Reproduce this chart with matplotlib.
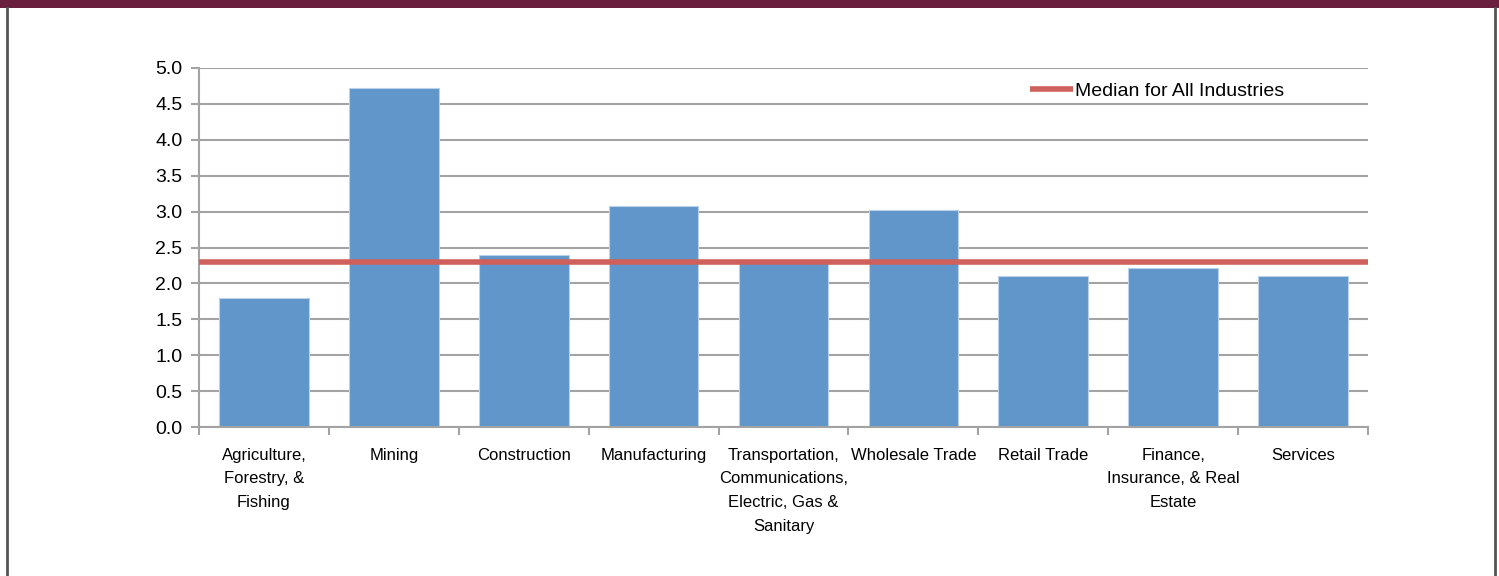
import numpy as np
import matplotlib
matplotlib.use("Agg")
import matplotlib.pyplot as plt
from matplotlib.lines import Line2D
from matplotlib.patches import Rectangle

# Data
industries = ["Agriculture,\nForestry, &\nFishing", "Mining", "Construction",
              "Manufacturing", "Transportation,\nCommunications,\nElectric, Gas &\nSanitary",
              "Wholesale Trade", "Retail Trade", "Finance,\nInsurance, & Real\nEstate",
              "Services"]
ratios = [1.80, 4.72, 2.39, 3.08, 2.33, 3.02, 2.10, 2.21, 2.11]
median_all = 2.30
y_ticks = np.arange(0, 5.01, 0.5)

plt.rcParams['font.family'] = ['Liberation Sans', 'DejaVu Sans']

fig = plt.figure(figsize=(14.99, 5.76), dpi=100)

# slide-style frame: maroon band on top, grey border sides
fig.patches.append(Rectangle((0, 1 - 8 / 576), 1, 8 / 576, transform=fig.transFigure,
                             facecolor="#6B1F3E", edgecolor="none"))
fig.lines.append(Line2D([7 / 1499, 7 / 1499], [0, 1 - 8 / 576], transform=fig.transFigure,
                        color="#555555", lw=2))
fig.lines.append(Line2D([1495 / 1499, 1495 / 1499], [0, 1 - 8 / 576], transform=fig.transFigure,
                        color="#555555", lw=2))

ax = fig.add_axes([199 / 1499, 1 - 427 / 576, (1368 - 199) / 1499, (427 - 68) / 576])

x = np.arange(len(industries))
ax.bar(x, ratios, width=0.69, color="#6096C9", edgecolor="#B9D1EA", linewidth=0.8, zorder=2)

# median line across all categories
ax.plot([-0.5, len(industries) - 0.5], [median_all, median_all], color="#CF605B",
        lw=4, solid_capstyle="butt", zorder=3, label="Median for All Industries")

ax.set_xlim(-0.5, len(industries) - 0.5)
ax.set_ylim(0, 5)
ax.set_yticks(y_ticks)
ax.set_yticklabels(["%.1f" % v for v in y_ticks], fontsize=14)
ax.yaxis.grid(True, color="#A3A3A3", lw=1.5, zorder=0)
ax.set_axisbelow(True)

ax.set_xticks(x)
ax.set_xticklabels(industries, fontsize=12, linespacing=1.72)
ax.set_xticks(np.arange(-0.5, len(industries)), minor=True)
ax.tick_params(axis="x", which="major", length=0, pad=15)
ax.tick_params(axis="x", which="minor", length=6, color="#A3A3A3", width=1.5)
ax.tick_params(axis="y", length=6, color="#A3A3A3", width=1.5, pad=6)

for side in ["top", "right"]:
    ax.spines[side].set_visible(False)
for side in ["left", "bottom"]:
    ax.spines[side].set_color("#A3A3A3")
    ax.spines[side].set_linewidth(1.5)

leg = ax.legend(loc="upper right", bbox_to_anchor=(0.943, 1.01), frameon=False,
                fontsize=14, handlelength=2.2, handletextpad=0.1)

plt.savefig("out.png", dpi=100)
